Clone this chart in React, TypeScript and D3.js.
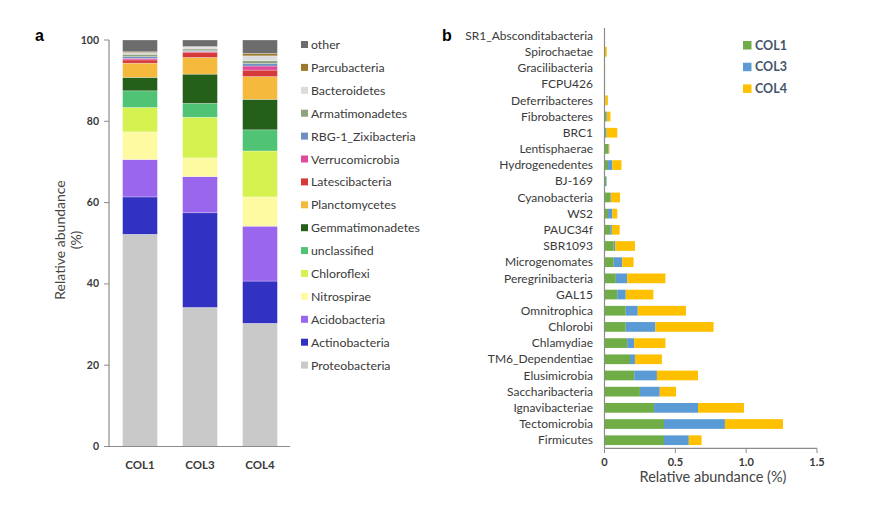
import React from "react";
import * as d3 from "d3";

// Panel a: phylum composition per sample (%), stacked bottom -> top
const samples = ["COL1", "COL3", "COL4"];
const phyla = [
  "Proteobacteria",
  "Actinobacteria",
  "Acidobacteria",
  "Nitrospirae",
  "Chloroflexi",
  "unclassified",
  "Gemmatimonadetes",
  "Planctomycetes",
  "Latescibacteria",
  "Verrucomicrobia",
  "RBG-1_Zixibacteria",
  "Armatimonadetes",
  "Bacteroidetes",
  "Parcubacteria",
  "other",
];
const phylaColors = [
  "#c9c9c9",
  "#3232c2",
  "#9a66ee",
  "#fdfaa2",
  "#d5f250",
  "#50c374",
  "#24601a",
  "#f5b93e",
  "#d43a3a",
  "#df4b9b",
  "#6e90c0",
  "#8fa27e",
  "#dcdcdc",
  "#9c7a2c",
  "#6d6d6d",
];
const col1Comp = [52.2, 9.2, 9.2, 6.8, 6.0, 4.1, 3.3, 3.5, 0.8, 0.4, 0.4, 0.6, 0.4, 0.2, 2.9];
const col3Comp = [34.2, 23.3, 8.9, 4.6, 10.0, 3.4, 7.2, 4.1, 1.3, 0.2, 0.2, 0.4, 0.5, 0.1, 1.6];
const col4Comp = [30.3, 10.4, 13.5, 7.2, 11.3, 5.2, 7.5, 5.6, 1.6, 1.0, 0.6, 0.7, 1.2, 0.6, 3.3];
const yTicksA = [0, 20, 40, 60, 80, 100];

// Panel b: rare phyla abundance (%) per sample
const rarePhyla = [
  "SR1_Absconditabacteria",
  "Spirochaetae",
  "Gracilibacteria",
  "FCPU426",
  "Deferribacteres",
  "Fibrobacteres",
  "BRC1",
  "Lentisphaerae",
  "Hydrogenedentes",
  "BJ-169",
  "Cyanobacteria",
  "WS2",
  "PAUC34f",
  "SBR1093",
  "Microgenomates",
  "Peregrinibacteria",
  "GAL15",
  "Omnitrophica",
  "Chlorobi",
  "Chlamydiae",
  "TM6_Dependentiae",
  "Elusimicrobia",
  "Saccharibacteria",
  "Ignavibacteriae",
  "Tectomicrobia",
  "Firmicutes",
];
const rareCol1 = [0.001, 0.002, 0.002, 0.002, 0.004, 0.012, 0.01, 0.025, 0.025, 0.012, 0.04, 0.025, 0.04, 0.065, 0.065, 0.08, 0.09, 0.15, 0.15, 0.16, 0.18, 0.21, 0.25, 0.35, 0.42, 0.42];
const rareCol3 = [0.001, 0.001, 0.001, 0.001, 0.002, 0.005, 0.005, 0.005, 0.03, 0.003, 0.005, 0.03, 0.012, 0.01, 0.06, 0.08, 0.06, 0.085, 0.21, 0.05, 0.035, 0.16, 0.14, 0.31, 0.43, 0.175];
const rareCol4 = [0.001, 0.013, 0.001, 0.001, 0.018, 0.025, 0.075, 0.005, 0.065, 0.0, 0.065, 0.035, 0.055, 0.14, 0.08, 0.27, 0.195, 0.34, 0.41, 0.22, 0.19, 0.29, 0.115, 0.325, 0.41, 0.09];
const sampleColors = ["#70ad47", "#5b9bd5", "#ffc000"];
const xTicksB = [0, 0.5, 1.0, 1.5];

const FONT = "Lato, 'Open Sans', sans-serif";
const AXIS = "#8c8c8c";
const INK = "#3a3a3a";

const PanelA = () => {
  const x = d3.scaleBand().domain(samples).range([110, 290]).paddingInner(0.42).paddingOuter(0.21);
  const y = d3.scaleLinear().domain([0, 100]).range([446.5, 40]);
  const rows = samples.map((s, i) => {
    const comp = [col1Comp, col3Comp, col4Comp][i];
    const row: Record<string, any> = { sample: s };
    phyla.forEach((p, j) => (row[p] = comp[j]));
    return row;
  });
  const series = d3.stack<any>().keys(phyla)(rows);

  return (
    <g>
      <text x={35} y={41} fontSize={16} fontWeight="bold" fontFamily="Arial, sans-serif">
        a
      </text>
      {series.map((s, i) => (
        <g key={s.key} fill={phylaColors[i]}>
          {s.map((d) => (
            <rect
              key={d.data.sample}
              x={x(d.data.sample)}
              width={x.bandwidth()}
              y={y(d[1])}
              height={Math.max(0, y(d[0]) - y(d[1]))}
              stroke="#ffffff"
              strokeOpacity={0.45}
              strokeWidth={0.6}
            />
          ))}
        </g>
      ))}
      <line x1={109} x2={109} y1={y(100)} y2={y(0)} stroke={AXIS} strokeWidth={1.2} />
      <line x1={105} x2={290} y1={y(0)} y2={y(0)} stroke={AXIS} strokeWidth={1.2} />
      {yTicksA.map((t) => (
        <g key={t}>
          <line x1={104} x2={109} y1={y(t)} y2={y(t)} stroke={AXIS} />
          <text
            x={99}
            y={y(t) + 3.5}
            textAnchor="end"
            fontSize={10.5}
            fontWeight="bold"
            fontFamily={FONT}
            fill={INK}
          >
            {t}
          </text>
        </g>
      ))}
      {samples.map((s) => (
        <text
          key={s}
          x={(x(s) as number) + x.bandwidth() / 2}
          y={469}
          textAnchor="middle"
          fontSize={11.5}
          fontWeight="bold"
          fontFamily={FONT}
          fill={INK}
        >
          {s}
        </text>
      ))}
      <text
        transform="translate(65,240) rotate(-90)"
        textAnchor="middle"
        fontSize={14}
        fontFamily={FONT}
        fill="#444"
      >
        Relative abundance
      </text>
      <text
        transform="translate(81,240) rotate(-90)"
        textAnchor="middle"
        fontSize={14}
        fontFamily={FONT}
        fill="#444"
      >
        (%)
      </text>
      {/* legend, top of stack first */}
      {phyla
        .slice()
        .reverse()
        .map((p, i) => {
          const idx = phyla.length - 1 - i;
          const ly = 45 + i * 22.9;
          return (
            <g key={p}>
              <rect x={301} y={ly - 4} width={7} height={7} fill={phylaColors[idx]} />
              <text x={311} y={ly + 4} fontSize={12.3} fontFamily={FONT} fill={INK}>
                {p}
              </text>
            </g>
          );
        })}
    </g>
  );
};

const PanelB = () => {
  const x = d3.scaleLinear().domain([0, 1.5]).range([604.5, 817]);
  const y = d3.scaleBand().domain(rarePhyla).range([27.5, 448.3]).paddingInner(0.4).paddingOuter(0.2);
  const rows = rarePhyla.map((p, i) => ({ name: p, COL1: rareCol1[i], COL3: rareCol3[i], COL4: rareCol4[i] }));
  const series = d3.stack<any>().keys(samples)(rows);

  return (
    <g>
      <text x={442} y={41} fontSize={16} fontWeight="bold" fontFamily="Arial, sans-serif">
        b
      </text>
      {series.map((s, i) => (
        <g key={s.key} fill={sampleColors[i]}>
          {s.map((d) => (
            <rect
              key={d.data.name}
              x={x(d[0])}
              width={Math.max(0, x(d[1]) - x(d[0]))}
              y={y(d.data.name)}
              height={y.bandwidth()}
            />
          ))}
        </g>
      ))}
      <line x1={604.5} x2={604.5} y1={28} y2={448.3} stroke={AXIS} strokeWidth={1.2} />
      <line x1={604.5} x2={817} y1={448.3} y2={448.3} stroke={AXIS} strokeWidth={1.2} />
      {xTicksB.map((t) => (
        <g key={t}>
          <line x1={x(t)} x2={x(t)} y1={448.3} y2={453} stroke={AXIS} />
          <text
            x={x(t)}
            y={466}
            textAnchor="middle"
            fontSize={11}
            fontWeight="bold"
            fontFamily={FONT}
            fill={INK}
          >
            {t === 0 ? "0" : t.toFixed(1)}
          </text>
        </g>
      ))}
      {rarePhyla.map((p) => (
        <text
          key={p}
          x={593}
          y={(y(p) as number) + y.bandwidth() / 2 + 4.2}
          textAnchor="end"
          fontSize={12}
          fontFamily={FONT}
          fill={INK}
        >
          {p}
        </text>
      ))}
      <text x={713} y={482} textAnchor="middle" fontSize={14.5} fontFamily={FONT} fill="#444">
        Relative abundance (%)
      </text>
      {samples.map((s, i) => {
        const ly = 45 + i * 21.7;
        return (
          <g key={s}>
            <rect x={743} y={ly - 4} width={8.5} height={8.5} fill={sampleColors[i]} />
            <text x={755} y={ly + 4.5} fontSize={12.5} fontWeight="bold" fontFamily={FONT} fill="#44546a">
              {s}
            </text>
          </g>
        );
      })}
    </g>
  );
};

const App = () => (
  <svg
    width={880}
    height={522}
    viewBox="0 0 880 522"
    style={{ position: "absolute", left: 0, top: 0, background: "#fff" }}
  >
    <rect width={880} height={522} fill="#fff" />
    <PanelA />
    <PanelB />
  </svg>
);

export default App;
